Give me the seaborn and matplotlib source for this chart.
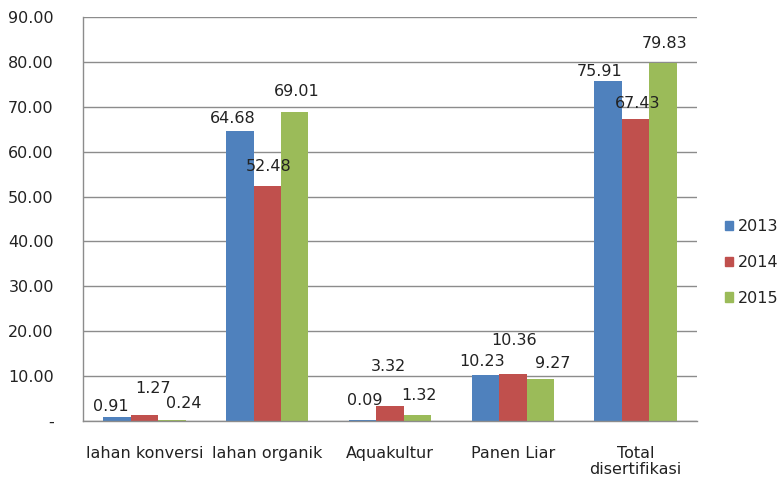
import matplotlib
matplotlib.use('Agg')
import matplotlib.pyplot as plt
import matplotlib.ticker as mticker
import pandas as pd
import seaborn as sns

kategori = ['lahan konversi', 'lahan organik', 'Aquakultur', 'Panen Liar', 'Total\ndisertifikasi']
tahun = ['2013', '2014', '2015']
nilai_2013 = [0.91, 64.68, 0.09, 10.23, 75.91]
nilai_2014 = [1.27, 52.48, 3.32, 10.36, 67.43]
nilai_2015 = [0.24, 69.01, 1.32, 9.27, 79.83]
warna = ['#4F81BD', '#C0504D', '#9BBB59']

# label shifts (pixels) copied from the Excel layout, per year then category
geser = {
    '2013': [(-6, 10), (-7, 12), (2, 20), (-3, 13), (-9, 9)],
    '2014': [(9, 26), (1, 19), (-2, 39), (1, 34), (2, 15)],
    '2015': [(12, 16), (2, 20), (2, 19), (13, 16), (2, 20)],
}

df = pd.DataFrame({
    'kategori': kategori * 3,
    'tahun': [t for t in tahun for _ in kategori],
    'nilai': nilai_2013 + nilai_2014 + nilai_2015,
})

sns.set_style('white')
plt.rcParams['font.family'] = ['DejaVu Sans']
fs = 11.5
plt.rcParams['font.size'] = fs
teks = '#222222'
abu = '#8c8c8c'

fig = plt.figure(figsize=(7.79, 4.78), dpi=100)
ax = fig.add_axes([0.1066, 0.1199, 0.7881, 0.8435])

sns.barplot(data=df, x='kategori', y='nilai', hue='tahun', palette=warna,
            width=0.67, saturation=1, gap=0, edgecolor='none', ax=ax, legend=False)

for cont, t in zip(ax.containers, tahun):
    for bar, v, (dx, dy) in zip(cont, df.loc[df.tahun == t, 'nilai'], geser[t]):
        ax.annotate(f'{v:.2f}', (bar.get_x() + bar.get_width() / 2, bar.get_height()),
                    xytext=(dx, dy), textcoords='offset pixels',
                    ha='center', va='center', color=teks, fontsize=fs)

ax.set_ylim(0, 90)
ax.set_yticks(range(0, 91, 10))
ax.yaxis.set_major_formatter(mticker.FuncFormatter(lambda v, p: '-' if v == 0 else f'{v:.2f}'))
ax.set_xlim(-0.5, 4.5)
ax.set_xticks([i - 0.5 for i in range(6)], minor=True)
ax.tick_params(axis='x', which='major', length=0, pad=18, colors=teks, labelsize=fs)
ax.tick_params(axis='x', which='minor', length=5, width=1, color=abu, direction='out')
ax.tick_params(axis='y', length=5, width=1, color=abu, direction='out', pad=16,
               labelcolor=teks, labelsize=fs)
for lab in ax.get_xticklabels():
    lab.set_linespacing(1.1)
ax.set_xlabel('')
ax.set_ylabel('')
ax.yaxis.grid(True, color=abu, linewidth=1)
ax.set_axisbelow(True)
for s in ['top', 'right']:
    ax.spines[s].set_visible(False)
for s in ['left', 'bottom']:
    ax.spines[s].set_color(abu)
    ax.spines[s].set_linewidth(1)

handles = [plt.Rectangle((0, 0), 1, 1, color=c) for c in warna]
fig.legend(handles, tahun, loc='center left', bbox_to_anchor=(0.912, 0.451),
           frameon=False, handlelength=0.5, handleheight=0.5, handletextpad=0.3,
           labelspacing=1.3, fontsize=fs, labelcolor=teks)

plt.savefig('out.png', dpi=100)
